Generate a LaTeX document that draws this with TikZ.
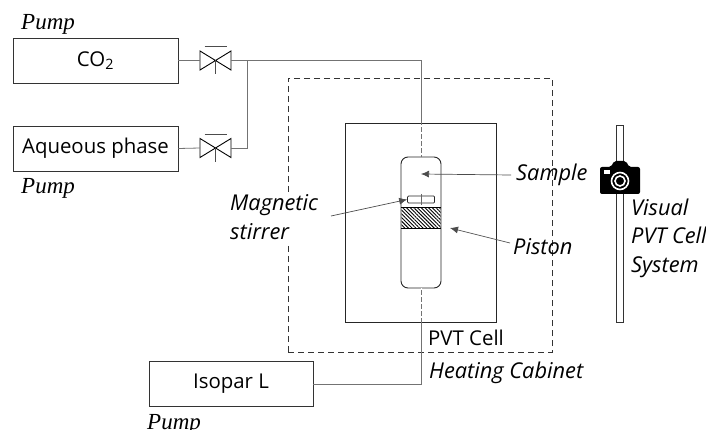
\documentclass[tikz,border=0pt]{standalone}
\usepackage{fontspec}
\setmainfont{Open Sans}
\newfontfamily\pumpfont{Liberation Serif}
\usetikzlibrary{patterns.meta,arrows.meta}
\begin{document}
\begin{tikzpicture}[x=1pt,y=-1pt]
	\tikzset{unit/.style = {shape=rectangle,draw=black!80,line width=.9pt,minimum width=165pt,minimum height=45pt,font=\fontsize{20.4}{24}\selectfont}}
	\tikzset{pipe/.style = {draw=black!55,line width=.8pt}}
	\tikzset{gap/.style = {draw=white,line width=.8pt,dash pattern=on 2pt off 5pt}}
	\tikzset{note/.style = {font=\fontsize{21.8}{28.5}\selectfont\itshape,inner sep=0pt,align=left,anchor=west}}
	\tikzset{pumplabel/.style = {font=\pumpfont\fontsize{23}{26}\selectfont\itshape,inner sep=0pt,anchor=west}}
	\tikzset{pointer/.style = {->,>={Latex[length=8pt,width=7pt]},draw=black!70,line width=.7pt}}
	\useasboundingbox (0,0) rectangle (706,430);
	% feed units
	\node[unit] (co2) at (95.5,60.5) {CO\textsubscript{2}};
	\node[unit] (aqueous) at (95.5,148.5) {Aqueous phase};
	\node[unit,minimum width=164pt] (isopar) at (231,384) {Isopar L};
	\node[pumplabel] (pumpa) at (21,24.5) {Pump};
	\node[pumplabel] (pumpb) at (21,188) {Pump};
	\node[pumplabel] (pumpc) at (147,424) {Pump};
	% cabinet and cell
	\node[draw=black!80,dash pattern=on 6pt off 4pt,line width=.8pt,minimum width=264pt,minimum height=274pt] (cabinet) at (420,215) {};
	\node[draw=black!85,line width=.9pt,minimum width=151pt,minimum height=199pt] (cell) at (420.5,222.5) {};
	\node[draw=black!85,line width=.9pt,rounded corners=7pt,minimum width=40pt,minimum height=131pt,inner sep=0pt] (vial) at (421,222.5) {};
	\node[pattern={Lines[angle=-45,distance=2.6pt,line width=.9pt]},minimum width=39pt,minimum height=20pt,inner sep=0pt] (piston) at (421,218) {};
	\draw[line width=.6pt] (piston.north west) -- (piston.north east) (piston.south west) -- (piston.south east);
	\node[draw=black!85,line width=.7pt,rounded corners=1pt,minimum width=27pt,minimum height=7pt,inner sep=0pt] (stirrer) at (421,199.5) {};
	% valves
	\coordinate (va) at (215.5,60.5);
	\coordinate (vb) at (215.5,148);
	\foreach \v in {va,vb} {
		\draw[line width=.9pt] ([shift={(-15.5,-9.5)}]\v) -- ([shift={(15.5,9.5)}]\v) -- ([shift={(15.5,-9.5)}]\v) -- ([shift={(-15.5,9.5)}]\v) -- cycle;
		\draw[line width=.6pt,black!70] (\v) -- ([yshift=-14pt]\v);
		\draw[line width=.6pt,black!70] ([shift={(-11,-14)}]\v) -- ([shift={(11,-14)}]\v);
	}
	% pipes
	\coordinate (ja) at (247,60.5);
	\coordinate (jb) at (247,148);
	\coordinate (top) at (421,60.5);
	\coordinate (bottom) at (421,384);
	\path[pipe] (co2.east) -- ([xshift=-15.5pt]va);
	\path[pipe] ([xshift=15.5pt]va) -- (ja) -- (top) -- (vial.north);
	\path[pipe] (aqueous.east) -- ([xshift=-15.5pt]vb);
	\path[pipe] ([xshift=15.5pt]vb) -- (jb) -- (ja);
	\path[pipe] (isopar.east) -- (bottom) -- (vial.south);
	\draw[gap] (421,125) -- (vial.north);
	\draw[gap] (vial.south) -- (421,321);
	\draw[black!60,line width=.6pt] (421,194) -- (421,205);
	% rail and camera
	\node[draw=black!80,line width=.8pt,minimum width=7pt,minimum height=197pt,inner sep=0pt] (rail) at (619.5,223.5) {};
	\fill[black,rounded corners=2pt] (600,167) -- (611,167) -- (614,161) -- (626,161) -- (629,167) -- (640,167) -- (640,194) -- (600,194) -- cycle;
	\fill[white] (604,170) rectangle (610,174);
	\node[circle,draw=white,line width=1.6pt,fill=black,minimum size=17pt,inner sep=0pt] (lens) at (620,181) {};
	\node[circle,draw=white,line width=1.6pt,minimum size=10pt,inner sep=0pt] (lensb) at (620,181) {};
	% labels
	\node[note] (sample) at (516,175) {Sample};
	\node[note,fill=white,inner sep=3pt] (stirlabel) at (227,217) {Magnetic\\stirrer};
	\node[note] (pistonlabel) at (513,247) {Piston};
	\node[note] (system) at (631,238) {Visual\\PVT Cell\\System};
	\node[note,font=\fontsize{20.4}{24}\selectfont] (celllabel) at (428,338) {PVT Cell};
	\node[note] (heating) at (429,373) {Heating Cabinet};
	% pointers
	\draw[pointer] (sample.west) ++(-5,0) -- (421,174);
	\draw[pointer] (331,216) -- (stirrer.west);
	\draw[pointer] (pistonlabel.west) ++(-3,-4) -- (450,228);
\end{tikzpicture}
\end{document}
